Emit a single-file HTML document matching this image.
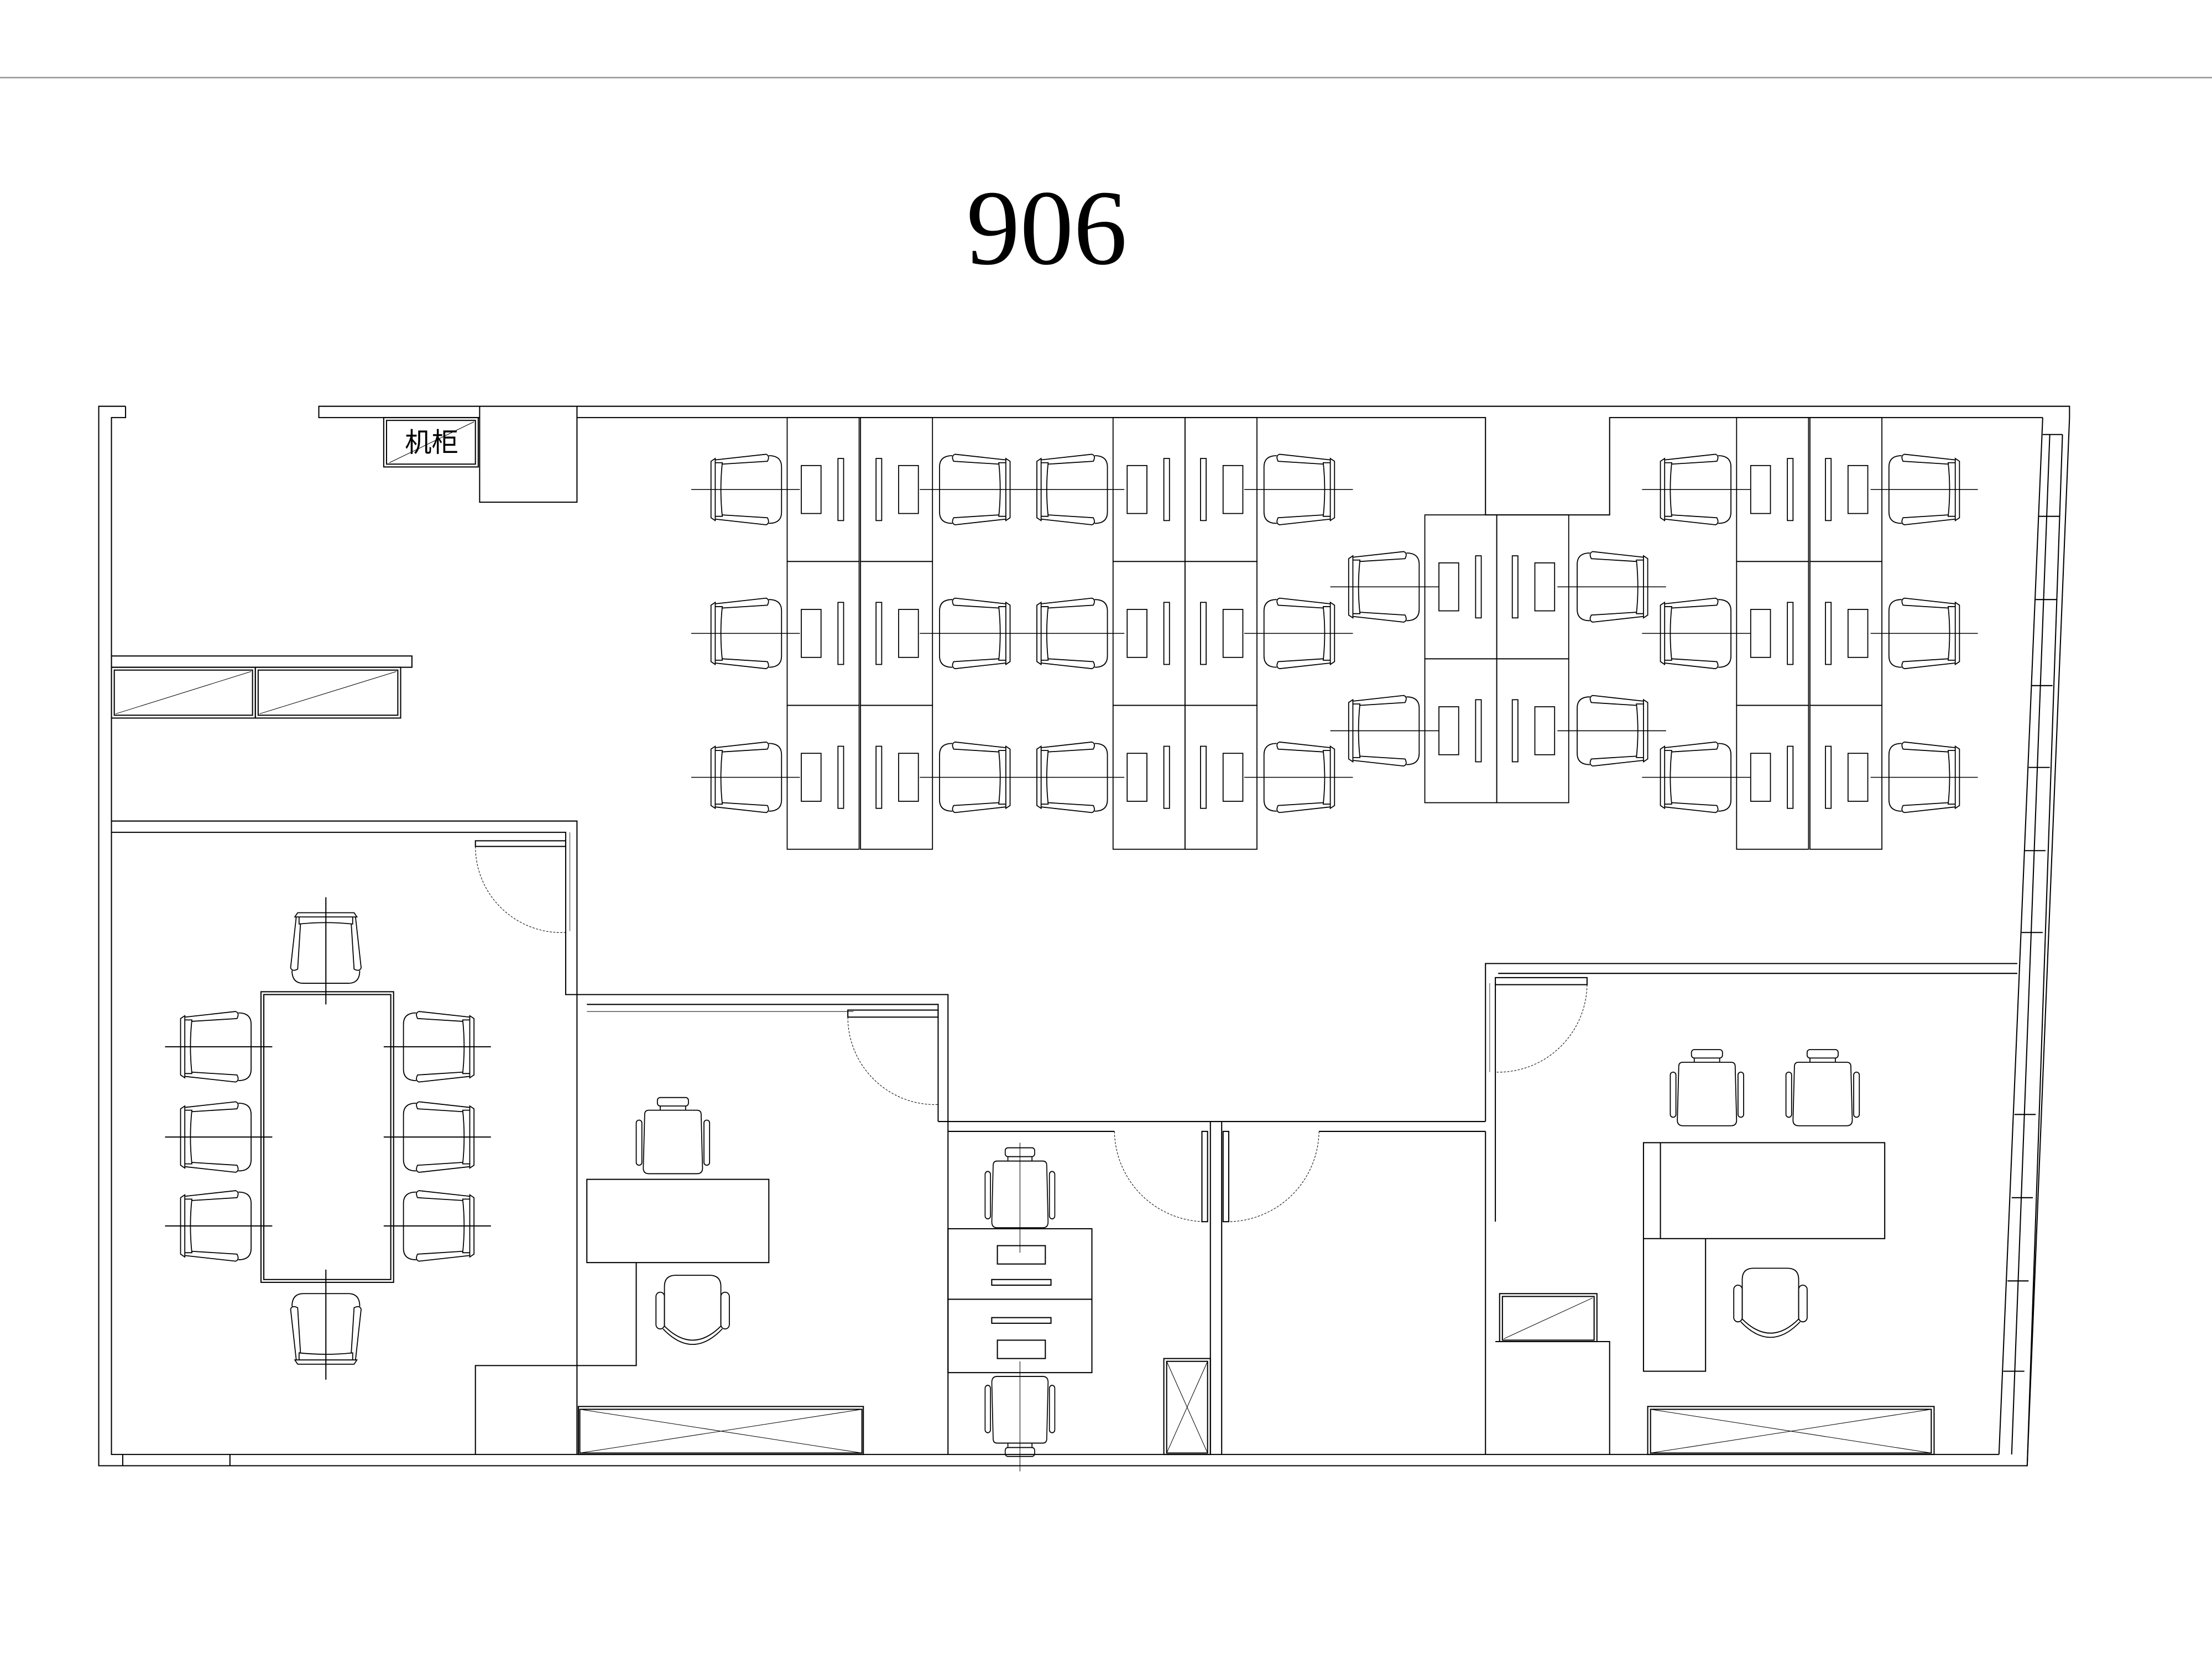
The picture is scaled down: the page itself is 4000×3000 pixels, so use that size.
<!DOCTYPE html>
<html><head><meta charset="utf-8"><style>html,body{margin:0;padding:0;background:#fff}svg{display:block}</style></head>
<body>
<svg width="4000" height="3000" viewBox="0 0 1568 1176" xmlns="http://www.w3.org/2000/svg">
<defs>
<g id="ch" fill="none" stroke="#000" stroke-width="0.7">
<path d="M0,-20 L3,-22 L3,22 L0,20 Z"/>
<path d="M3,-19 L8,-19 Q6,0 8,19 L3,19"/>
<path d="M3,-21 L39,-25 Q42,-24 40,-20 L8,-18"/>
<path d="M3,21 L39,25 Q42,24 40,20 L8,18"/>
<path d="M41,-24 Q50,-24 50,-16 L50,16 Q50,24 41,24"/>
</g>
<g id="oc" fill="none" stroke="#000" stroke-width="0.7">
<rect x="-11" y="-28" width="22" height="6" rx="2"/>
<path d="M-9,-22 L-9,-19 M9,-22 L9,-19"/>
<path d="M-17,-19 L17,-19 Q20,-19 20,-16 L21,22 Q21,26 17,26 L-17,26 Q-21,26 -21,22 L-20,-16 Q-20,-19 -17,-19Z"/>
<rect x="-26" y="-12" width="4" height="32" rx="2"/>
<rect x="22" y="-12" width="4" height="32" rx="2"/>
</g>
<g id="ec" fill="none" stroke="#000" stroke-width="0.7">
<path d="M-12,-26 L12,-26 Q20,-26 20,-18 L20,10 Q0,30 -20,10 L-20,-18 Q-20,-26 -12,-26Z"/>
<path d="M-21,12 Q0,34 21,12"/>
<rect x="-26" y="-14" width="6" height="26" rx="3"/>
<rect x="20" y="-14" width="6" height="26" rx="3"/>
</g>
<g id="cl" fill="none" stroke="#000" stroke-width="0.7">
<rect x="0" y="0" width="51" height="102"/>
<rect x="10" y="34" width="14" height="34"/>
<rect x="36" y="29" width="4" height="44"/>
</g>
<g id="cr" fill="none" stroke="#000" stroke-width="0.7">
<rect x="0" y="0" width="51" height="102"/>
<rect x="11" y="29" width="4" height="44"/>
<rect x="27" y="34" width="14" height="34"/>
</g>
</defs>
<line x1="0" y1="55" x2="1568" y2="55" stroke="#999" stroke-width="1"/>
<text x="742" y="187" font-family="Liberation Serif, serif" font-size="76" text-anchor="middle">906</text>

<g fill="none" stroke="#000" stroke-width="0.8">
<!-- outer walls -->
<path d="M89,288 L70,288 L70,1039 L1437,1039 L1467,296 L1467,288 L1141,288 L409,288 L226,288 L226,296 L340,296"/>
<path d="M89,288 L89,296 L79,296 L79,1031 L1417,1031"/>
<path d="M340,288 L340,356 L409,356 L409,288"/>
<path d="M409,296 L1053,296 L1053,365 L1141,365 L1141,296 L1448,296"/>
<path d="M1448,296 L1417,1031"/>
<path d="M1448,308 L1462,308"/>
<path d="M1462,308 L1437,1039"/>
<path d="M1453,308 L1426,1031"/>
<path d="M1445,366 L1460,366 M1443,425 L1458,425 M1440,486 L1455,486 M1438,544 L1453,544 M1435,603 L1450,603 M1433,661 L1448,661 M1428,790 L1443,790 M1426,849 L1441,849 M1423,908 L1438,908 M1420,972 L1435,972"/>
<path d="M87,1031 L87,1039 M163,1031 L163,1039"/>
<!-- cabinet -->
<rect x="272" y="296" width="67" height="35"/>
<rect x="274" y="298" width="63" height="31"/>
<line x1="276" y1="328" x2="336" y2="299" stroke-width="0.4"/>
<!-- shelf -->
<rect x="79" y="465" width="213" height="8"/>
<rect x="79" y="473" width="102" height="36"/><rect x="181" y="473" width="103" height="36"/>
<rect x="81" y="475" width="98" height="32"/><rect x="183" y="475" width="99" height="32"/>
<line x1="82" y1="506" x2="178" y2="476" stroke-width="0.4"/><line x1="184" y1="506" x2="281" y2="476" stroke-width="0.4"/>
<!-- conference room walls -->
<path d="M79,582 L409,582 L409,1031"/>
<path d="M79,590 L401,590 L401,660 M401,660 L401,705 L409,705"/>
<line x1="404" y1="590" x2="404" y2="660" stroke-width="0.3"/>
<rect x="337" y="596" width="64" height="4"/>
<path d="M337,600 A61,61 0 0 0 401,661" stroke-width="0.4" stroke-dasharray="1.5 1"/>
<path d="M337,1031 L337,968 L409,968"/>
<rect x="185" y="703" width="94" height="206"/>
<rect x="187" y="705" width="90" height="202"/>
<line x1="231" y1="636" x2="231" y2="712"/><line x1="231" y1="900" x2="231" y2="978"/>
<line x1="117" y1="742" x2="193" y2="742"/><line x1="117" y1="806" x2="193" y2="806"/><line x1="117" y1="869" x2="193" y2="869"/>
<line x1="272" y1="742" x2="348" y2="742"/><line x1="272" y1="806" x2="348" y2="806"/><line x1="272" y1="869" x2="348" y2="869"/>
</g>
<use href="#ch" transform="translate(128,742)"/>
<use href="#ch" transform="translate(128,806)"/>
<use href="#ch" transform="translate(128,869)"/>
<use href="#ch" transform="translate(336,742) scale(-1,1)"/>
<use href="#ch" transform="translate(336,806) scale(-1,1)"/>
<use href="#ch" transform="translate(336,869) scale(-1,1)"/>
<use href="#ch" transform="translate(231,647) rotate(90)"/>
<use href="#ch" transform="translate(231,967) rotate(-90)"/>

<g fill="none" stroke="#000" stroke-width="0.8">
<!-- office 1 -->
<path d="M409,705 L672,705 L672,795"/>
<path d="M416,712 L665,712 L665,795"/>
<line x1="416" y1="717" x2="605" y2="717" stroke-width="0.4"/>
<rect x="601" y="716" width="64" height="5"/>
<path d="M601,721 A62,62 0 0 0 665,783" stroke-width="0.4" stroke-dasharray="1.5 1"/>
<rect x="416" y="836" width="129" height="59"/>
<path d="M451,895 L451,968 L409,968"/>
<rect x="410" y="997" width="202" height="34"/>
<rect x="411" y="999" width="200" height="31"/>
<path d="M411,999 L611,1030 M411,1030 L611,999" stroke-width="0.4"/>
<!-- office 2 -->
<path d="M665,795 L1053,795"/>
<path d="M672,802 L790,802 M935,802 L1053,802"/>
<path d="M858,795 L858,1031 M866,795 L866,1031"/>
<path d="M672,795 L672,1031"/>
<rect x="852" y="802" width="4" height="64"/>
<path d="M790,802 A65,65 0 0 0 855,866" stroke-width="0.4" stroke-dasharray="1.5 1"/>
<rect x="867" y="802" width="4" height="64"/>
<path d="M935,802 A65,65 0 0 1 870,866" stroke-width="0.4" stroke-dasharray="1.5 1"/>
<rect x="672" y="871" width="102" height="50"/>
<rect x="672" y="921" width="102" height="52"/>
<rect x="707" y="883" width="34" height="13"/>
<rect x="703" y="907" width="42" height="4"/>
<rect x="703" y="934" width="42" height="4"/>
<rect x="707" y="950" width="34" height="13"/>
<line x1="723" y1="810" x2="723" y2="888" stroke-width="0.4"/>
<line x1="723" y1="965" x2="723" y2="1043" stroke-width="0.4"/>
<rect x="825" y="963" width="33" height="68"/>
<rect x="827" y="965" width="29" height="65"/>
<path d="M827,965 L856,1030 M856,965 L827,1030" stroke-width="0.4"/>
<!-- office 4 -->
<path d="M1053,795 L1053,683 L1430,683 M1053,1031 L1053,802"/>
<path d="M1062,690 L1430,690"/>
<rect x="1060" y="693" width="65" height="5"/>
<path d="M1125,698 A63,63 0 0 1 1060,760" stroke-width="0.4" stroke-dasharray="1.5 1"/>
<path d="M1060,697 L1060,866" />
<line x1="1056" y1="697" x2="1056" y2="760" stroke-width="0.3"/>
<rect x="1165" y="810" width="171" height="68"/>
<path d="M1177,810 L1177,878"/>
<path d="M1165,878 L1165,972 L1209,972 L1209,878"/>
<rect x="1063" y="917" width="69" height="34"/>
<rect x="1065" y="919" width="65" height="31"/>
<line x1="1066" y1="949" x2="1129" y2="920" stroke-width="0.4"/>
<path d="M1060,951 L1141,951 L1141,1031"/>
<rect x="1168" y="997" width="203" height="34"/>
<rect x="1170" y="999" width="199" height="31"/>
<path d="M1170,999 L1369,1030 M1170,1030 L1369,999" stroke-width="0.4"/>
</g>
<use href="#oc" transform="translate(477,806)"/>
<use href="#ec" transform="translate(491,930)"/>
<use href="#oc" transform="translate(723,843) scale(0.95,1.05)"/>
<use href="#oc" transform="translate(723,1003) rotate(180) scale(0.95,1.05)"/>
<use href="#oc" transform="translate(1210,772)"/>
<use href="#oc" transform="translate(1292,772)"/>
<use href="#ec" transform="translate(1255,925)"/>

<!-- workstations -->
<use href="#cl" x="558" y="296"/><use href="#cr" x="610" y="296"/>
<use href="#cl" x="558" y="398"/><use href="#cr" x="610" y="398"/>
<use href="#cl" x="558" y="500"/><use href="#cr" x="610" y="500"/>
<use href="#cl" x="789" y="296"/><use href="#cr" x="840" y="296"/>
<use href="#cl" x="789" y="398"/><use href="#cr" x="840" y="398"/>
<use href="#cl" x="789" y="500"/><use href="#cr" x="840" y="500"/>
<use href="#cl" x="1010" y="365"/><use href="#cr" x="1061" y="365"/>
<use href="#cl" x="1010" y="467"/><use href="#cr" x="1061" y="467"/>
<use href="#cl" x="1231" y="296"/><use href="#cr" x="1283" y="296"/>
<use href="#cl" x="1231" y="398"/><use href="#cr" x="1283" y="398"/>
<use href="#cl" x="1231" y="500"/><use href="#cr" x="1283" y="500"/>
<g stroke="#000" stroke-width="0.6">
<line x1="490" y1="347" x2="567" y2="347"/><line x1="652" y1="347" x2="797" y2="347"/><line x1="882" y1="347" x2="959" y2="347"/>
<line x1="490" y1="449" x2="567" y2="449"/><line x1="652" y1="449" x2="797" y2="449"/><line x1="882" y1="449" x2="959" y2="449"/>
<line x1="490" y1="551" x2="567" y2="551"/><line x1="652" y1="551" x2="797" y2="551"/><line x1="882" y1="551" x2="959" y2="551"/>
<line x1="943" y1="416" x2="1020" y2="416"/><line x1="1104" y1="416" x2="1181" y2="416"/>
<line x1="943" y1="518" x2="1020" y2="518"/><line x1="1104" y1="518" x2="1181" y2="518"/>
<line x1="1164" y1="347" x2="1241" y2="347"/><line x1="1326" y1="347" x2="1402" y2="347"/>
<line x1="1164" y1="449" x2="1241" y2="449"/><line x1="1326" y1="449" x2="1402" y2="449"/>
<line x1="1164" y1="551" x2="1241" y2="551"/><line x1="1326" y1="551" x2="1402" y2="551"/>
</g>
<use href="#ch" transform="translate(504,347)"/><use href="#ch" transform="translate(716,347) scale(-1,1)"/>
<use href="#ch" transform="translate(735,347)"/><use href="#ch" transform="translate(946,347) scale(-1,1)"/>
<use href="#ch" transform="translate(504,449)"/><use href="#ch" transform="translate(716,449) scale(-1,1)"/>
<use href="#ch" transform="translate(735,449)"/><use href="#ch" transform="translate(946,449) scale(-1,1)"/>
<use href="#ch" transform="translate(504,551)"/><use href="#ch" transform="translate(716,551) scale(-1,1)"/>
<use href="#ch" transform="translate(735,551)"/><use href="#ch" transform="translate(946,551) scale(-1,1)"/>
<use href="#ch" transform="translate(956,416)"/><use href="#ch" transform="translate(1168,416) scale(-1,1)"/>
<use href="#ch" transform="translate(956,518)"/><use href="#ch" transform="translate(1168,518) scale(-1,1)"/>
<use href="#ch" transform="translate(1177,347)"/><use href="#ch" transform="translate(1389,347) scale(-1,1)"/>
<use href="#ch" transform="translate(1177,449)"/><use href="#ch" transform="translate(1389,449) scale(-1,1)"/>
<use href="#ch" transform="translate(1177,551)"/><use href="#ch" transform="translate(1389,551) scale(-1,1)"/>

<text x="306" y="320" font-family="Liberation Sans, Noto Sans CJK SC, sans-serif" font-size="19" text-anchor="middle">机柜</text>
</svg>
</body></html>
